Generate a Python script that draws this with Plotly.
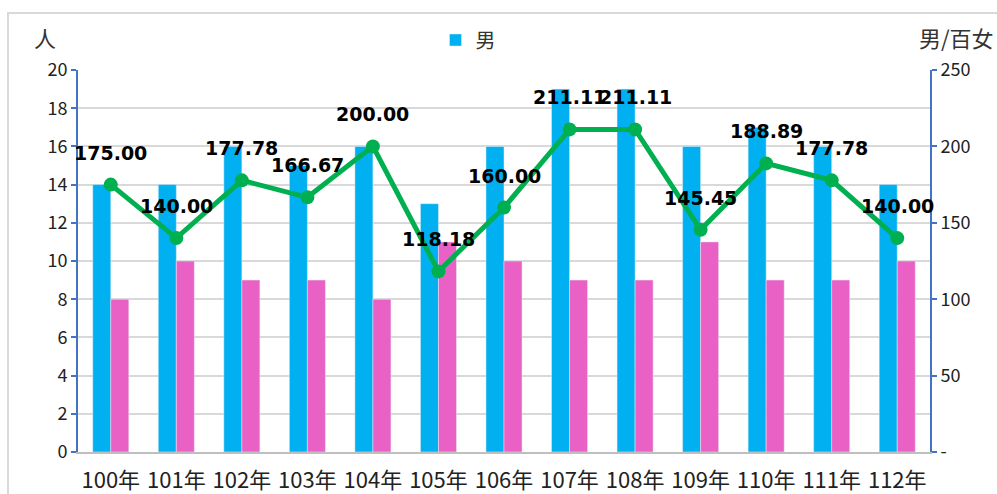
import plotly.graph_objects as go

years = ["100年", "101年", "102年", "103年", "104年", "105年", "106年",
         "107年", "108年", "109年", "110年", "111年", "112年"]
male = [14, 14, 16, 15, 16, 13, 16, 19, 19, 16, 17, 16, 14]
female = [8, 10, 9, 9, 8, 11, 10, 9, 9, 11, 9, 9, 10]
ratio = [175.00, 140.00, 177.78, 166.67, 200.00, 118.18, 160.00,
         211.11, 211.11, 145.45, 188.89, 177.78, 140.00]
left_ticks = [0, 2, 4, 6, 8, 10, 12, 14, 16, 18, 20]
right_tickvals = [0, 50, 100, 150, 200, 250]
right_ticktext = ["-", "50", "100", "150", "200", "250"]

W, H = 997, 494
L, R, T, B = 78, 67, 70, 42
pw, ph = W - L - R, H - T - B

CJK = "Noto Sans CJK TC"
fig = go.Figure()
fig.add_trace(go.Bar(x=years, y=male, name="男", marker_color="#00B0F0",
                     showlegend=True))
fig.add_trace(go.Bar(x=years, y=female, name="女", marker_color="#E961C4",
                     showlegend=False))
fig.add_trace(go.Scatter(x=years, y=ratio, yaxis="y2", mode="lines+markers",
                         name="性比例", line=dict(color="#00B050", width=5),
                         marker=dict(size=14, color="#00B050"),
                         showlegend=False))

for x, v in zip(years, ratio):
    fig.add_annotation(x=x, y=v, yref="y2", text=f"{v:.2f}", showarrow=False,
                       yshift=32, font=dict(family="DejaVu Sans", size=19,
                                            color="black", weight="bold"))

def px2x(p):
    return (p - L) / pw

def px2y(p):
    return (H - B - p) / ph

fig.add_annotation(x=px2x(45), y=px2y(37), xref="paper", yref="paper",
                   xanchor="center", yanchor="middle",
                   text="人", showarrow=False,
                   font=dict(family=CJK, size=22, color="#333333"))
fig.add_annotation(x=px2x(996), y=px2y(37), xref="paper", yref="paper",
                   text="男/百女", showarrow=False, xanchor="right",
                   yanchor="middle",
                   font=dict(family=CJK, size=22, color="#333333"))

fig.add_shape(type="rect", xref="paper", yref="paper",
              x0=px2x(8), x1=px2x(1005), y0=px2y(505), y1=px2y(13),
              line=dict(color="#d9d9d9", width=2), fillcolor="rgba(0,0,0,0)",
              layer="below")

fig.update_layout(
    width=W, height=H,
    margin=dict(l=L, r=R, t=T, b=B),
    paper_bgcolor="white", plot_bgcolor="white",
    barmode="group", bargap=0.45, bargroupgap=0,
    font=dict(family=CJK, size=18, color="#222222"),
    legend=dict(orientation="h", x=px2x(468), y=px2y(40), xanchor="center",
                yanchor="middle", font=dict(family=CJK, size=20, color="#333333"),
                bgcolor="rgba(0,0,0,0)"),
    xaxis=dict(range=[-0.5, len(years) - 0.5], showline=True,
               linecolor="#bfbfbf", linewidth=1.5, automargin=False,
               tickfont=dict(family=CJK, size=22, color="#222222"),
               ticks="", showgrid=False, ticklabelstandoff=8),
    yaxis=dict(range=[0, 20], tickvals=left_ticks, showgrid=True,
               gridcolor="#d9d9d9", gridwidth=1.5, showline=True,
               linecolor="#4472C4", linewidth=2, ticks="outside",
               tickcolor="#4472C4", ticklen=5, tickwidth=2, automargin=False,
               zeroline=False, tickfont=dict(size=18, color="#222222")),
    yaxis2=dict(range=[0, 250], tickvals=right_tickvals, ticktext=right_ticktext,
                overlaying="y", side="right", showgrid=False, showline=True,
                linecolor="#4472C4", linewidth=2, ticks="outside",
                tickcolor="#4472C4", ticklen=5, tickwidth=2, zeroline=False,
                automargin=False, tickfont=dict(size=18, color="#222222")),
)

fig.write_html("out.html", config={"displayModeBar": False})

with open("out.html", encoding="utf-8") as f:
    html = f.read()
html = html.replace("<head>", "<head><style>html,body{margin:0;padding:0;overflow:hidden;}</style>", 1)
with open("out.html", "w", encoding="utf-8") as f:
    f.write(html)
